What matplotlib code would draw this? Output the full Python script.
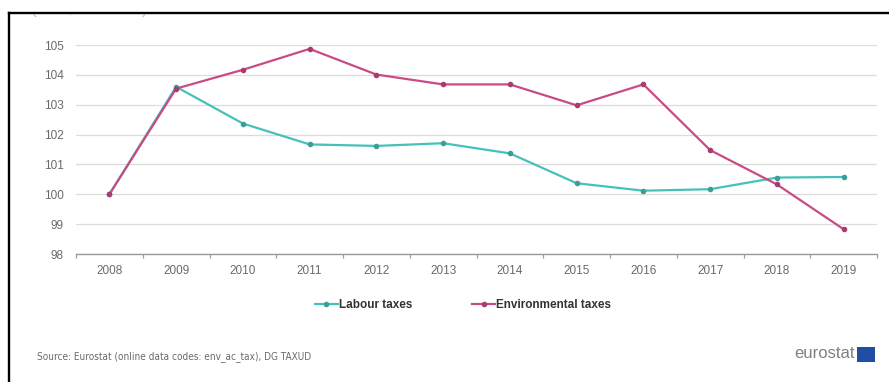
import matplotlib
matplotlib.use("Agg")
import matplotlib.pyplot as plt
from matplotlib.lines import Line2D
from matplotlib.patches import Rectangle
from matplotlib.transforms import Bbox, TransformedBbox
import numpy as np

years = ["2008", "2009", "2010", "2011", "2012", "2013",
         "2014", "2015", "2016", "2017", "2018", "2019"]
labour_taxes = [100.0, 103.6, 102.37, 101.67, 101.62, 101.71,
                101.37, 100.37, 100.12, 100.17, 100.56, 100.58]
environmental_taxes = [100.0, 103.54, 104.17, 104.87, 104.01, 103.68,
                       103.68, 102.98, 103.68, 101.48, 100.33, 98.83]
y_ticks = [98, 99, 100, 101, 102, 103, 104, 105]
subtitle = "(index, 2008 = 100)"
source_note = "Source: Eurostat (online data codes: env_ac_tax), DG TAXUD"

W, H = 889, 382
fig = plt.figure(figsize=(W / 100, H / 100), dpi=100)
fig.patch.set_facecolor("white")

plt.rcParams["font.family"] = ["Liberation Sans", "DejaVu Sans"]

ax = fig.add_axes([76 / W, 1 - 254 / H, 801 / W, 209 / H])
x = np.arange(len(years))

teal = "#45c1b9"
magenta = "#c94b85"

ax.plot(x, labour_taxes, color=teal, lw=1.6, marker="o", ms=3,
        mfc="#3a9f99", mec="#3a9f99", label="Labour taxes", zorder=3)
ax.plot(x, environmental_taxes, color=magenta, lw=1.6, marker="o", ms=3,
        mfc="#a83c6e", mec="#a83c6e", label="Environmental taxes", zorder=4)

ax.set_xlim(-0.5, len(years) - 0.5)
ax.set_ylim(98, 105)
ax.set_yticks(y_ticks)
ax.set_yticklabels([str(v) for v in y_ticks])
ax.set_xticks(x)
ax.set_xticklabels(years)
ax.set_xticks(np.arange(-0.5, len(years)), minor=True)

ax.grid(axis="y", color="#dcdcdc", lw=0.9)
ax.set_axisbelow(True)
for side in ["top", "right", "left"]:
    ax.spines[side].set_visible(False)
ax.spines["bottom"].set_color("#9a9a9a")
ax.spines["bottom"].set_linewidth(1.0)

ax.tick_params(axis="y", length=0, pad=9, labelsize=8.5, labelcolor="#6a6a6a")
ax.tick_params(axis="x", which="major", length=0, pad=8, labelsize=8.5,
               labelcolor="#6a6a6a")
ax.tick_params(axis="x", which="minor", length=3, width=0.9, color="#9a9a9a",
               direction="out")

leg = fig.legend(loc="center", bbox_to_anchor=(463 / W, 1 - 305 / H), ncol=2,
                 frameon=False, handlelength=2.0, handletextpad=0.1,
                 columnspacing=5.0, prop={"size": 8.5, "weight": "bold"})
for txt in leg.get_texts():
    txt.set_color("#333333")

# Source line and logo
fig.text(37 / W, 1 - 357 / H, source_note, fontsize=7.2,
         family=["DejaVu Sans"], fontstretch="condensed", color="#6a6a6a",
         va="center", ha="left")
fig.text(855 / W, 1 - 354 / H, "eurostat", fontsize=12, color="#808080",
         va="center", ha="right")
fig.patches.append(Rectangle((857 / W, 1 - 362 / H), 18 / W, 15 / H,
                             transform=fig.transFigure, facecolor="#1f4ea3",
                             edgecolor="none"))

# Subtitle sitting partly above the frame
clip = TransformedBbox(Bbox([[0, 0], [1, (H - 14) / H]]), fig.transFigure)
sub = fig.text(32 / W, 1 - 11 / H, subtitle, fontsize=9.5, color="#b0b0b0",
               va="center", ha="left")
sub.set_clip_box(clip)
sub.set_clip_on(True)

# Frame lines
fig.add_artist(Line2D([8.5 / W, 1.0], [1 - 12.5 / H, 1 - 12.5 / H],
                      transform=fig.transFigure, color="black", lw=1.7))
fig.add_artist(Line2D([8.5 / W, 8.5 / W], [0, 1 - 12.5 / H],
                      transform=fig.transFigure, color="black", lw=1.7))

fig.savefig("out.png", dpi=100, facecolor="white")
